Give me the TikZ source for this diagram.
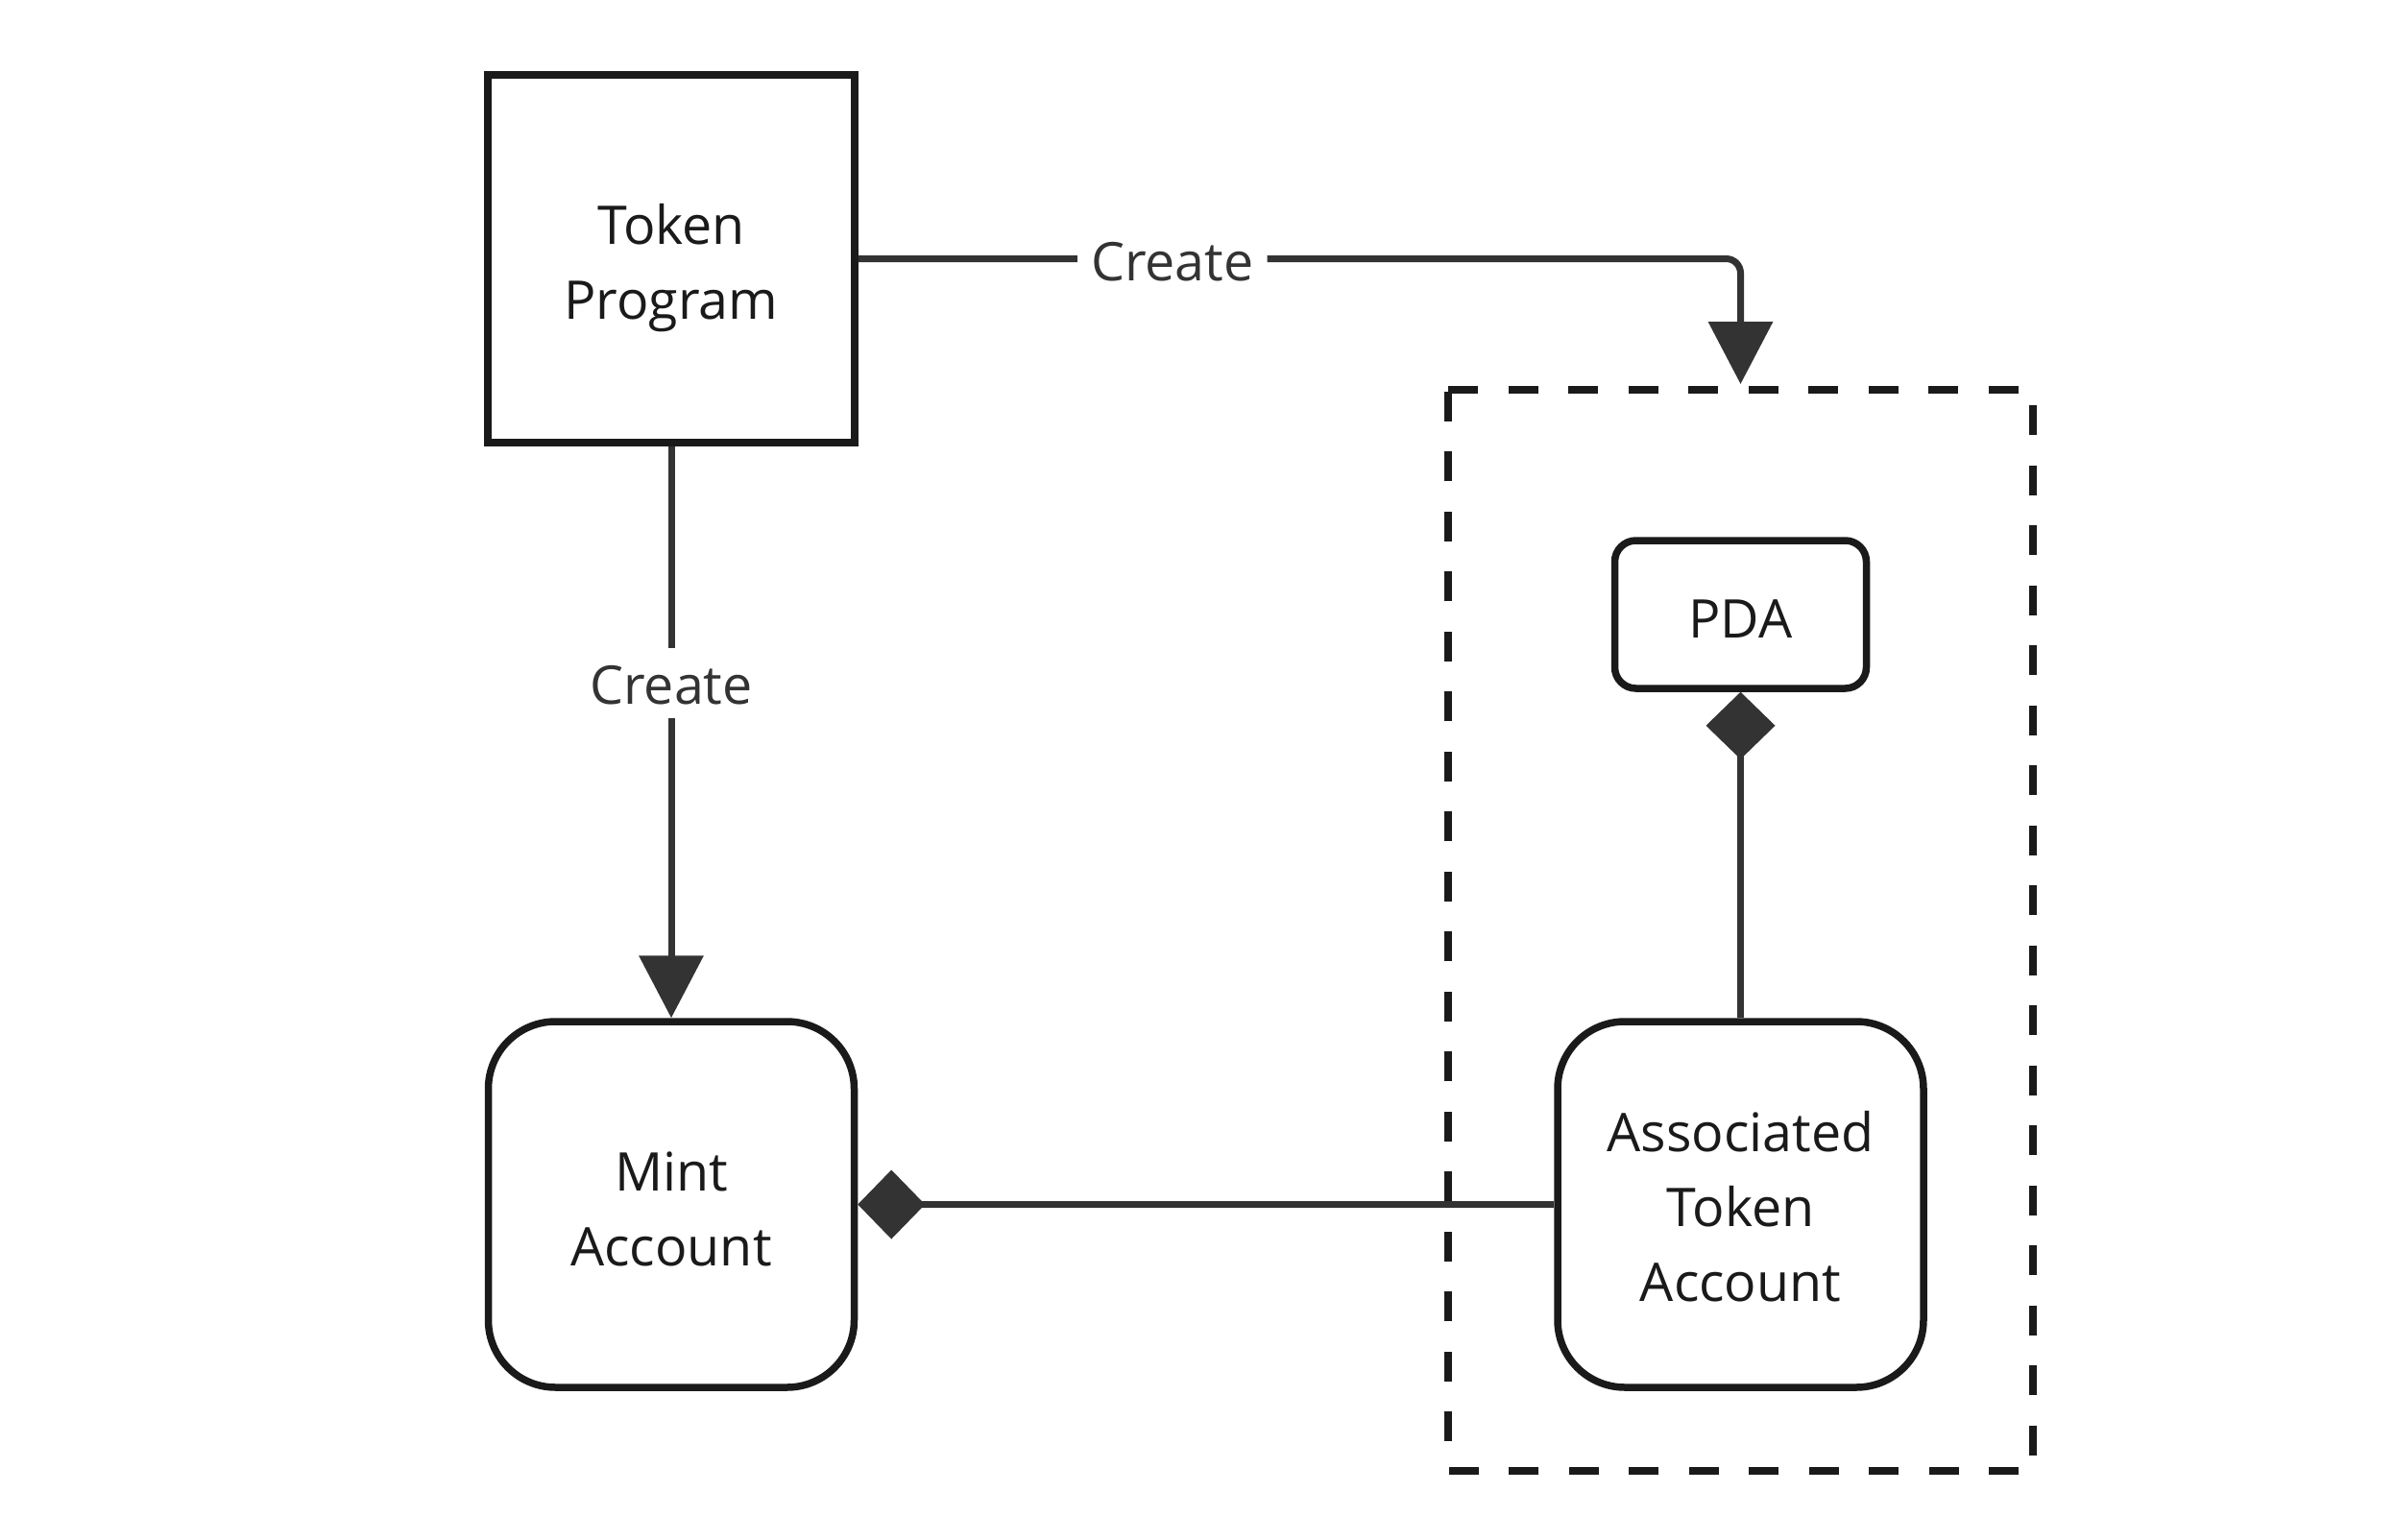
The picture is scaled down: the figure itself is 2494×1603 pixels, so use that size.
\documentclass[tikz,border=0pt]{standalone}
\usepackage{fontspec}
\setmainfont{Open Sans}
\usetikzlibrary{arrows.meta}
\definecolor{ink}{HTML}{1A1A1A}
\definecolor{connc}{HTML}{333333}
\newcommand\myraise[1]{\rule{0pt}{#1}}
\begin{document}
\begin{tikzpicture}[x=0.1mm,y=-0.1mm,
  box/.style={draw=ink, fill=white, line width=0.75mm, text=ink, align=center,
    font=\fontsize{15.8}{22.2}\selectfont, inner sep=0pt, outer sep=0.375mm},
  tpbox/.style={box, minimum width=38.2mm, minimum height=38.3mm},
  acct/.style={box, rounded corners=7mm, minimum width=38.1mm, minimum height=38.1mm},
  pdabox/.style={box, rounded corners=2.2mm, minimum width=26.2mm, minimum height=15.4mm},
  connline/.style={draw=connc, line width=0.7mm},
  createarrow/.style={connline, -{Triangle[length=6.5mm,width=6.6mm]}},
  owner/.style={connline, {Diamond[length=7mm,width=7.2mm]}-},
  lbl/.style={fill=white, text=connc, font=\fontsize{15.8}{22.2}\selectfont, inner sep=1.4mm},
  grpbox/.style={draw=ink, line width=0.8mm, dash pattern=on 3.1mm off 3.15mm},
]
\useasboundingbox (0,0) rectangle (2494,1603);
% group (dashed) frame
\node[minimum width=60.9mm, minimum height=112.6mm, inner sep=0pt, outer sep=0pt] (grp) at (1812.5,969) {};
\draw[grpbox] (grp.north west) -- (grp.north east) -- (grp.south east) -- (grp.south west) -- cycle;
% nodes
\node[tpbox] (tp) at (699,269.5) {\myraise{1.12em}Token\\Program};
\node[acct] (mint) at (699,1254.5) {\myraise{0.92em}Mint\\Account};
\node[acct] (ata) at (1812.5,1254.5) {\myraise{0.84em}Associated\\Token\\Account};
\node[pdabox] (pda) at (1812.5,640) {\myraise{0.9em}PDA};
% connectors
\draw[createarrow, rounded corners=1.5mm, shorten >=0.6mm] (tp.east) -| node[lbl, pos=0.178] {\myraise{0.84em}Create} (grp.north);
\draw[createarrow] (tp.south) -- node[lbl, pos=0.415] {\myraise{0.8em}Create} (mint.north);
\draw[owner] (mint.east) -- (ata.west);
\draw[owner] (pda.south) -- (ata.north);
\end{tikzpicture}
\end{document}
